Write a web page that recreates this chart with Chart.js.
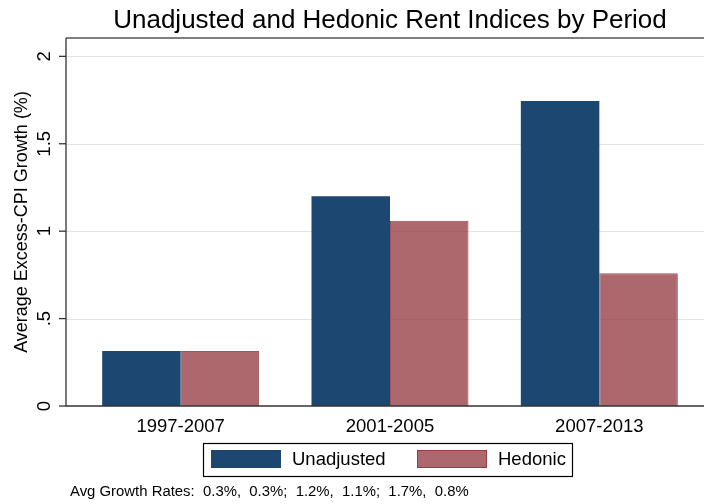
<!DOCTYPE html>
<html>
<head>
<meta charset="utf-8">
<script src="https://cdn.jsdelivr.net/npm/chart.js@4"></script>
<style>
  body { margin: 0; background: #fff; }
  canvas { display: block; }
</style>
</head>
<body>
<canvas id="myChart" width="704" height="504"></canvas>
<script>
'use strict';

// chart data
var periods = ['1997-2007', '2001-2005', '2007-2013'];
var unadjusted = [0.314, 1.20, 1.745];
var hedonic = [0.314, 1.06, 0.76];
var seriesNames = ['Unadjusted', 'Hedonic'];
var yTicks = [0, 0.5, 1, 1.5, 2];
var yTickLabels = ['0', '.5', '1', '1.5', '2'];
var chartTitle = 'Unadjusted and Hedonic Rent Indices by Period';
var yTitle = 'Average Excess-CPI Growth (%)';
var noteText = 'Avg Growth Rates:  0.3%,  0.3%;  1.2%,  1.1%;  1.7%,  0.8%';

var FONT = '"Liberation Sans", Arial, sans-serif';
var AXIS_X = 66;
var RIGHT_X = 704;

// stata-like frame, grid, labels and legend
var stataLook = {
  id: 'stataLook',
  beforeDatasetsDraw: function (chart) {
    var ctx = chart.ctx;
    var y = chart.scales.y;
    ctx.save();
    ctx.strokeStyle = '#e4e4e4';
    ctx.lineWidth = 1.2;
    yTicks.forEach(function (v) {
      if (v === 0) return;
      var py = Math.round(y.getPixelForValue(v)) + 0.5;
      ctx.beginPath();
      ctx.moveTo(AXIS_X, py);
      ctx.lineTo(RIGHT_X, py);
      ctx.stroke();
    });
    ctx.restore();
  },
  afterDatasetsDraw: function (chart) {
    var ctx = chart.ctx;
    var y = chart.scales.y;
    var area = chart.chartArea;
    ctx.save();

    // top line
    ctx.strokeStyle = '#555';
    ctx.lineWidth = 1.5;
    ctx.beginPath();
    ctx.moveTo(AXIS_X, area.top);
    ctx.lineTo(RIGHT_X, area.top);
    ctx.stroke();

    // axes
    ctx.strokeStyle = '#333';
    ctx.lineWidth = 1.3;
    ctx.beginPath();
    ctx.moveTo(AXIS_X, area.top);
    ctx.lineTo(AXIS_X, area.bottom);
    ctx.lineTo(RIGHT_X, area.bottom);
    ctx.stroke();

    // y ticks and rotated labels
    ctx.fillStyle = '#000';
    ctx.font = '18.5px ' + FONT;
    ctx.textAlign = 'center';
    ctx.textBaseline = 'alphabetic';
    yTicks.forEach(function (v, i) {
      var py = y.getPixelForValue(v);
      ctx.beginPath();
      ctx.moveTo(AXIS_X - 7, py);
      ctx.lineTo(AXIS_X, py);
      ctx.stroke();
      ctx.save();
      ctx.translate(50, py);
      ctx.rotate(-Math.PI / 2);
      ctx.fillText(yTickLabels[i], 0, 0);
      ctx.restore();
    });

    // y title
    ctx.save();
    ctx.font = '18px ' + FONT;
    ctx.translate(27, (area.top + area.bottom) / 2);
    ctx.rotate(-Math.PI / 2);
    ctx.fillText(yTitle, 0, 0);
    ctx.restore();

    // title
    ctx.font = '26px ' + FONT;
    ctx.fillText(chartTitle, 390, 28);

    // legend
    var ds = chart.data.datasets;
    ctx.strokeStyle = '#000';
    ctx.lineWidth = 1.2;
    ctx.strokeRect(203.5, 443.5, 369, 33);
    var swX = [211, 417];
    ctx.font = '18.5px ' + FONT;
    ctx.textAlign = 'left';
    ctx.textBaseline = 'middle';
    ds.forEach(function (d, i) {
      ctx.fillStyle = d.backgroundColor;
      ctx.fillRect(swX[i], 450, 70, 18);
      ctx.strokeStyle = d.borderColor;
      ctx.lineWidth = 1;
      ctx.strokeRect(swX[i] + 0.5, 450.5, 69, 17);
      ctx.fillStyle = '#000';
      ctx.fillText(seriesNames[i], swX[i] + 81, 460);
    });

    // note
    ctx.font = '14.9px ' + FONT;
    ctx.fillText(noteText, 70, 492);

    ctx.restore();
  }
};

var canavas = document.getElementById('myChart').getContext('2d');

var chart = new Chart(canavas, {
  type: 'bar',
  data: {
    labels: periods,
    datasets: [{
      label: seriesNames[0],
      backgroundColor: 'rgb(27,71,112)',
      borderColor: 'rgb(27,71,112)',
      borderWidth: 0,
      data: unadjusted
    },
    {
      label: seriesNames[1],
      backgroundColor: 'rgba(144,53,59,0.75)',
      borderColor: 'rgba(144,53,59,0.85)',
      borderWidth: 1,
      data: hedonic
    }]
  },
  options: {
    responsive: false,
    animation: false,
    devicePixelRatio: 1,
    layout: { padding: { left: 76, right: 0, top: 38, bottom: 0 } },
    plugins: {
      legend: { display: false },
      title: { display: false },
      tooltip: { enabled: false }
    },
    datasets: {
      bar: { barPercentage: 1, categoryPercentage: 0.75 }
    },
    scales: {
      x: {
        grid: { display: false },
        border: { display: false },
        ticks: {
          color: '#000',
          padding: 2,
          font: { family: FONT, size: 18.5 }
        },
        afterFit: function (scale) { scale.height = 98; }
      },
      y: {
        display: false,
        min: 0,
        max: 2.105
      }
    }
  },
  plugins: [stataLook]
});
</script>
</body>
</html>
